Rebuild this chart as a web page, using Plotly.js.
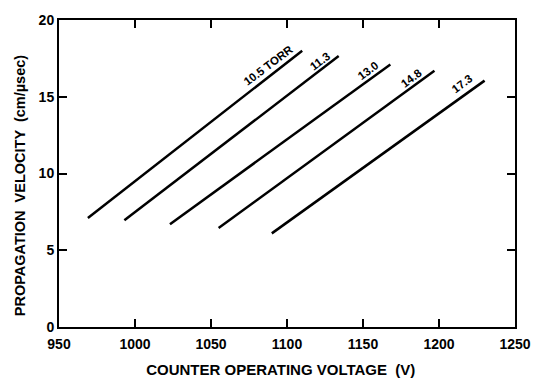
<!DOCTYPE html>
<html>
<head>
<meta charset="utf-8">
<script src="https://cdn.plot.ly/plotly-3.0.1.min.js"></script>
<style>html,body{margin:0;padding:0;background:#fff;}#chart{width:533px;height:379px;}</style>
</head>
<body>
<div id="chart"></div>
<script>
// Pressure curves (torr): start and end points of each line
const pressures = ["10.5 TORR", "11.3", "13.0", "14.8", "17.3"];
const voltStart = [969, 993, 1023, 1055, 1090];
const voltEnd   = [1110, 1134, 1168, 1197, 1230];
const velStart  = [7.1, 6.95, 6.7, 6.45, 6.1];
const velEnd    = [18.0, 17.65, 17.1, 16.7, 16.05];
// label positions (data coords)
const labelX = [1088, 1122, 1153, 1182, 1215];
const labelY = [17.07, 17.33, 16.68, 16.22, 15.83];

const xTicks = [950, 1000, 1050, 1100, 1150, 1200, 1250];
const yTicks = [0, 5, 10, 15, 20];

const font = "Liberation Sans, Arial, sans-serif";
const PAD = (n) => "\u00a0".repeat(n) + "\u200d";

const traces = pressures.map((p, i) => ({
  type: "scatter", mode: "lines",
  x: [voltStart[i], voltEnd[i]],
  y: [velStart[i], velEnd[i]],
  line: {color: "#000", width: 2.5},
  name: p, showlegend: false, hoverinfo: "skip"
}));

const annotations = pressures.map((p, i) => ({
  x: labelX[i], y: labelY[i], xref: "x", yref: "y",
  text: p, showarrow: false, textangle: -37,
  xanchor: "center", yanchor: "middle",
  font: {family: font, size: 11.5, color: "#000", weight: "bold"}
}));

const layout = {
  width: 533, height: 379,
  margin: {l: 59, r: 18, t: 20, b: 52},
  paper_bgcolor: "#fff", plot_bgcolor: "#fff",
  showlegend: false,
  xaxis: {
    range: [950, 1250], tickvals: xTicks, ticktext: xTicks.map(String),
    ticks: "inside", ticklen: 8, tickwidth: 2, tickcolor: "#000",
    showline: true, linewidth: 2, linecolor: "#000", mirror: "ticks",
    showgrid: false, zeroline: false, ticklabelstandoff: 3,
    tickfont: {family: font, size: 14, color: "#000", weight: "bold"},
    title: {text: "COUNTER OPERATING VOLTAGE  (V)" + PAD(3), font: {family: font, size: 15, color: "#000", weight: "bold"}, standoff: 14}
  },
  yaxis: {
    range: [0, 20], tickvals: yTicks, ticktext: yTicks.map(String),
    ticks: "inside", ticklen: 8, tickwidth: 2, tickcolor: "#000",
    showline: true, linewidth: 2, linecolor: "#000", mirror: "ticks",
    showgrid: false, zeroline: false,
    tickfont: {family: font, size: 14, color: "#000", weight: "bold"},
    title: {text: "PROPAGATION  VELOCITY  (cm/µsec)" + PAD(6), font: {family: font, size: 14.5, color: "#000", weight: "bold"}, standoff: 10}
  },
  annotations: annotations
};

Plotly.newPlot("chart", traces, layout, {displayModeBar: false, staticPlot: true});
</script>
</body>
</html>
